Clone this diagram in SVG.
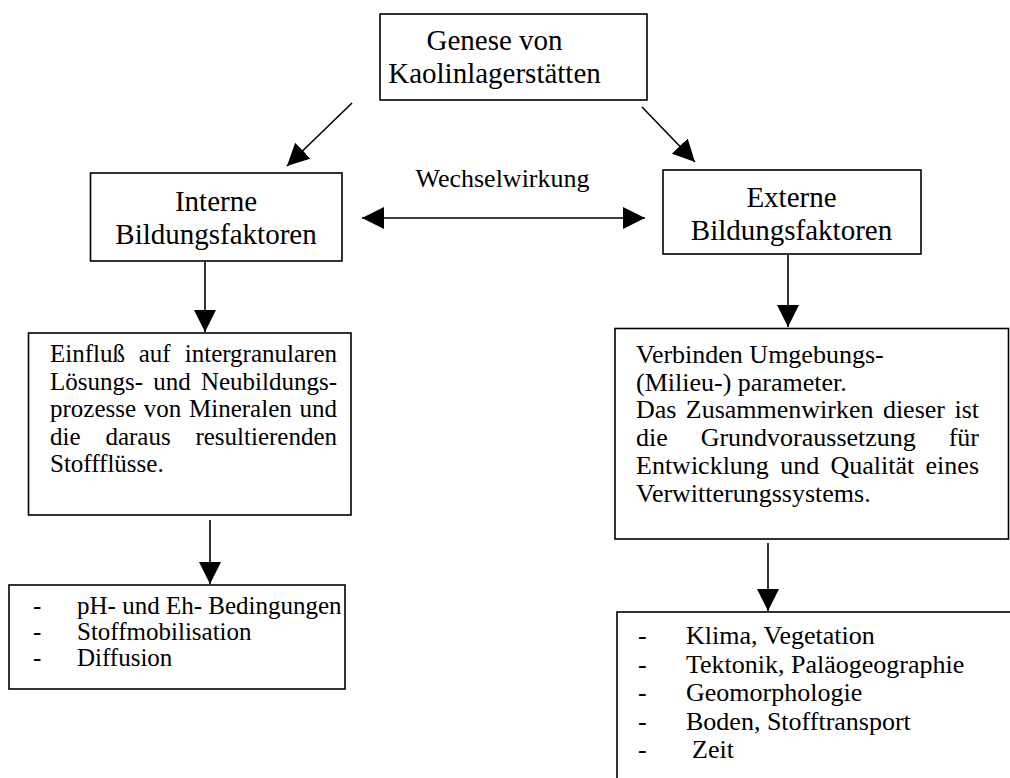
<svg xmlns="http://www.w3.org/2000/svg" width="1010" height="778" viewBox="0 0 1010 778">
<style>
.box{fill:#fff;stroke:#000;stroke-width:1.6}
.h{font-family:"Liberation Serif","Times New Roman",serif;font-size:29px;fill:#000;text-anchor:middle}
.b{font-family:"Liberation Serif","Times New Roman",serif;font-size:26px;fill:#000}
.bl{font-family:"Liberation Serif","Times New Roman",serif;font-size:25px;fill:#000}
.c{stroke:#000;stroke-width:1.6;fill:none}
</style>
<defs>
<marker id="ah" markerUnits="userSpaceOnUse" markerWidth="22" markerHeight="22" viewBox="0 0 20 20" refX="20" refY="10" orient="auto-start-reverse">
<path d="M0,0 L20,10 L0,20 Z" fill="#000"/>
</marker>
</defs>
<rect width="1010" height="778" fill="#fff"/>
<g id="connectors">
<line class="c" x1="352" y1="103" x2="287" y2="166" marker-end="url(#ah)"/>
<line class="c" x1="642" y1="107" x2="695" y2="162" marker-end="url(#ah)"/>
<line class="c" x1="362" y1="218" x2="645" y2="218" marker-start="url(#ah)" marker-end="url(#ah)"/>
<line class="c" x1="205" y1="262" x2="205" y2="332" marker-end="url(#ah)"/>
<line class="c" x1="788" y1="255" x2="788" y2="327" marker-end="url(#ah)"/>
<line class="c" x1="210" y1="520" x2="210" y2="584" marker-end="url(#ah)"/>
<line class="c" x1="768" y1="543" x2="768" y2="611" marker-end="url(#ah)"/>
<text class="b" x="502.5" y="187" text-anchor="middle">Wechselwirkung</text>
</g>
<g id="genese">
<rect class="box" x="380" y="14" width="267" height="86"/>
<text class="h" x="494.5" y="50">Genese von</text>
<text class="h" x="494.5" y="83">Kaolinlagerstätten</text>
</g>
<g id="interne">
<rect class="box" x="90.5" y="173" width="251.5" height="88"/>
<text class="h" x="216" y="211">Interne</text>
<text class="h" x="216" y="244">Bildungsfaktoren</text>
</g>
<g id="externe">
<rect class="box" x="663" y="170" width="258" height="84"/>
<text class="h" x="791.5" y="207">Externe</text>
<text class="h" x="791.5" y="240">Bildungsfaktoren</text>
</g>
<g id="einfluss">
<rect class="box" x="28.5" y="333" width="322.5" height="182"/>
<text class="bl" y="362"><tspan x="50">Einfluß</tspan><tspan x="138.7">auf</tspan><tspan x="337" text-anchor="end">intergranularen</tspan></text>
<text class="bl" y="389.6"><tspan x="50">Lösungs-</tspan><tspan x="153.3">und</tspan><tspan x="337" text-anchor="end">Neubildungs-</tspan></text>
<text class="bl" y="417.2"><tspan x="50">prozesse</tspan><tspan x="143.8">von</tspan><tspan x="189">Mineralen</tspan><tspan x="337" text-anchor="end">und</tspan></text>
<text class="bl" y="444.8"><tspan x="50">die</tspan><tspan x="105.4">daraus</tspan><tspan x="337" text-anchor="end">resultierenden</tspan></text>
<text class="bl" x="50" y="472.4">Stoffflüsse.</text>
</g>
<g id="verbinden">
<rect class="box" x="615" y="328.5" width="393.5" height="210.5"/>
<text class="b" x="636" y="363">Verbinden Umgebungs-</text>
<text class="b" x="636" y="390.7">(Milieu-) parameter.</text>
<text class="b" y="418.4"><tspan x="636">Das</tspan><tspan x="685.8">Zusammenwirken</tspan><tspan x="882.9">dieser</tspan><tspan x="979" text-anchor="end">ist</tspan></text>
<text class="b" y="446.1"><tspan x="636">die</tspan><tspan x="700.7">Grundvoraussetzung</tspan><tspan x="979" text-anchor="end">für</tspan></text>
<text class="b" y="473.8"><tspan x="636">Entwicklung</tspan><tspan x="780.2">und</tspan><tspan x="830.5">Qualität</tspan><tspan x="979" text-anchor="end">eines</tspan></text>
<text class="b" x="636" y="501.5">Verwitterungssystems.</text>
</g>
<g id="interne-liste">
<rect class="box" x="9" y="585" width="336" height="104"/>
<text class="bl" x="33" y="614">-</text>
<text class="bl" x="77" y="614">pH- und Eh- Bedingungen</text>
<text class="bl" x="33" y="640">-</text>
<text class="bl" x="77" y="640">Stoffmobilisation</text>
<text class="bl" x="33" y="666">-</text>
<text class="bl" x="77" y="666">Diffusion</text>
</g>
<g id="externe-liste">
<rect class="box" x="617" y="612" width="500" height="300"/>
<text class="b" x="638" y="644">-</text>
<text class="b" x="686" y="644">Klima, Vegetation</text>
<text class="b" x="638" y="672.5">-</text>
<text class="b" x="686" y="672.5">Tektonik, Paläogeographie</text>
<text class="b" x="638" y="701">-</text>
<text class="b" x="686" y="701">Geomorphologie</text>
<text class="b" x="638" y="729.5">-</text>
<text class="b" x="686" y="729.5">Boden, Stofftransport</text>
<text class="b" x="638" y="758">-</text>
<text class="b" x="692" y="758">Zeit</text>
</g>
</svg>
